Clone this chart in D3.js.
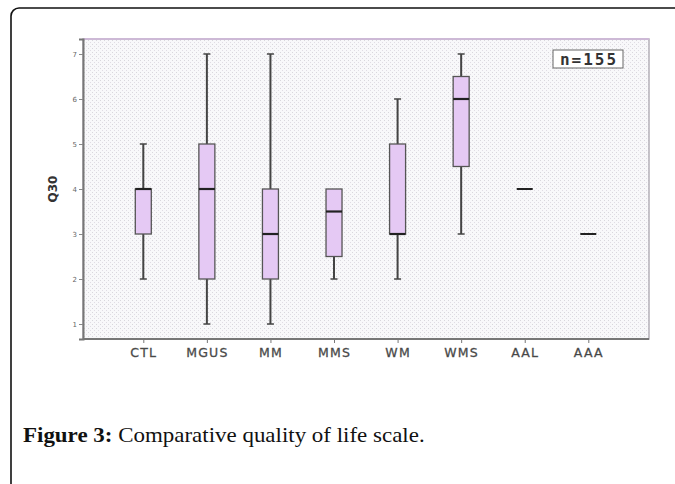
<!DOCTYPE html>
<html><head><meta charset="utf-8">
<script src="https://cdn.jsdelivr.net/npm/d3@7"></script>
<style>html,body{margin:0;padding:0;background:#fff;overflow:hidden;}svg{display:block;}</style>
</head><body>
<script>
const categories = ["CTL","MGUS","MM","MMS","WM","WMS","AAL","AAA"];
const mins    = [2, 1, 1, 2,   2, 3,   4, 3];
const q1s     = [3, 2, 2, 2.5, 3, 4.5, 4, 3];
const medians = [4, 4, 3, 3.5, 3, 6,   4, 3];
const q3s     = [4, 5, 4, 4,   5, 6.5, 4, 3];
const maxs    = [5, 7, 7, 4,   6, 7,   4, 3];
const yTicks  = [1,2,3,4,5,6,7];
const yLabel = "Q30";
const nLabel = "n=155";
const captionBold = "Figure 3:";
const captionText = " Comparative quality of life scale.";

const W = 675, H = 484;
const svg = d3.select("body").append("svg").attr("width", W).attr("height", H);

// outer frame (top and left edges, rounded top-left corner)
const fp = d3.path();
fp.moveTo(11, H + 5); fp.lineTo(11, 16); fp.arcTo(11, 8, 19, 8, 8); fp.lineTo(W + 5, 8);
svg.append("path").attr("d", fp.toString()).attr("fill", "none").attr("stroke", "#111").attr("stroke-width", 1.6);

const L = 83, T = 39, R = 649, B = 339;
const y = d3.scaleLinear().domain([0.667, 7.333]).range([B, T]);
const x = d3.scalePoint().domain(categories).range([143.3, 588.3]);

// dotted texture pattern
const defs = svg.append("defs");
const pat = defs.append("pattern").attr("id", "dots").attr("width", 4).attr("height", 4)
  .attr("patternUnits", "userSpaceOnUse");
pat.append("rect").attr("width", 4).attr("height", 4).attr("fill", "#f8f8fa");
pat.append("rect").attr("x", 0).attr("y", 0).attr("width", 1).attr("height", 1).attr("fill", "#d8d7dc");
pat.append("rect").attr("x", 2).attr("y", 2).attr("width", 1).attr("height", 1).attr("fill", "#e0dce4");

svg.append("rect").attr("x", L).attr("y", T).attr("width", R - L).attr("height", B - T)
  .attr("fill", "url(#dots)").attr("stroke", "#b4b0b8").attr("stroke-width", 1.5);
svg.append("line").attr("x1", L).attr("x2", R).attr("y1", T).attr("y2", T)
  .attr("stroke", "#cdb9d6").attr("stroke-width", 2);

// axes
const yAxis = d3.axisLeft(y).tickValues(yTicks).tickSize(4).tickPadding(2).tickFormat(d3.format("d"));
const gy = svg.append("g").attr("transform", `translate(${L},0)`).call(yAxis);
gy.select(".domain").attr("stroke", "#777").attr("stroke-width", 2);
gy.selectAll(".tick line").attr("stroke", "#888");
gy.selectAll(".tick text").attr("fill", "#666").attr("font-size", 7).attr("font-family", "DejaVu Sans");

const xAxis = d3.axisBottom(x).tickSize(4).tickPadding(5);
const gx = svg.append("g").attr("transform", `translate(0,${B})`).call(xAxis);
gx.select(".domain").remove();
gx.append("line").attr("x1", L).attr("x2", R).attr("y1", 0).attr("y2", 0).attr("stroke", "#777").attr("stroke-width", 2);
gx.selectAll(".tick line").attr("stroke", "#777");
gx.selectAll(".tick text").attr("fill", "#444").attr("font-size", 12.5)
  .attr("font-family", "'DejaVu Sans'").attr("letter-spacing", 1.2)
  .attr("stroke", "#555").attr("stroke-width", 0.3);

svg.append("text").attr("transform", `translate(57,${y(4)}) rotate(-90)`).attr("text-anchor", "middle")
  .attr("font-family", "DejaVu Sans").attr("font-weight", "bold").attr("font-size", 12).attr("fill", "#333")
  .text(yLabel);

// boxes
const bw = 16, cap = 7;
const data = categories.map((c, i) => ({c, min: mins[i], q1: q1s[i], med: medians[i], q3: q3s[i], max: maxs[i]}));
const g = svg.append("g");
data.forEach(d => {
  const cx = x(d.c);
  const col = "#444";
  if (d.q1 === d.q3) {
    g.append("line").attr("x1", cx - bw/2).attr("x2", cx + bw/2).attr("y1", y(d.med)).attr("y2", y(d.med))
      .attr("stroke", "#222").attr("stroke-width", 2);
    return;
  }
  if (d.max > d.q3) {
    g.append("line").attr("x1", cx).attr("x2", cx).attr("y1", y(d.q3)).attr("y2", y(d.max)).attr("stroke", col).attr("stroke-width", 2);
    g.append("line").attr("x1", cx - cap/2).attr("x2", cx + cap/2).attr("y1", y(d.max)).attr("y2", y(d.max)).attr("stroke", col).attr("stroke-width", 1.5);
  }
  if (d.min < d.q1) {
    g.append("line").attr("x1", cx).attr("x2", cx).attr("y1", y(d.q1)).attr("y2", y(d.min)).attr("stroke", col).attr("stroke-width", 2);
    g.append("line").attr("x1", cx - cap/2).attr("x2", cx + cap/2).attr("y1", y(d.min)).attr("y2", y(d.min)).attr("stroke", col).attr("stroke-width", 1.5);
  }
  g.append("rect").attr("x", cx - bw/2).attr("y", y(d.q3)).attr("width", bw).attr("height", y(d.q1) - y(d.q3))
    .attr("fill", "#e5c9f4").attr("stroke", "#555").attr("stroke-width", 1.3);
  g.append("line").attr("x1", cx - bw/2).attr("x2", cx + bw/2).attr("y1", y(d.med)).attr("y2", y(d.med))
    .attr("stroke", "#222").attr("stroke-width", 2.2);
});

// n label
svg.append("rect").attr("x", 553).attr("y", 50).attr("width", 70).attr("height", 18)
  .attr("fill", "#fff").attr("stroke", "#666").attr("stroke-width", 1);
svg.append("text").attr("x", 589).attr("y", 65).attr("text-anchor", "middle")
  .attr("font-family", "DejaVu Sans Mono").attr("font-weight", "bold").attr("font-size", 16)
  .attr("letter-spacing", 2).attr("fill", "#333")
  .text(nLabel);

// caption
const capT = svg.append("text").attr("x", 23).attr("y", 442).attr("font-family", "Liberation Serif")
  .attr("font-size", 20).attr("fill", "#111");
capT.append("tspan").attr("font-weight", "bold").text(captionBold);
capT.append("tspan").text(captionText);
const tw = capT.node().getComputedTextLength();
const sx = 402 / tw;
capT.attr("transform", `translate(23,0) scale(${sx},1) translate(-23,0)`);
</script>
</body></html>
